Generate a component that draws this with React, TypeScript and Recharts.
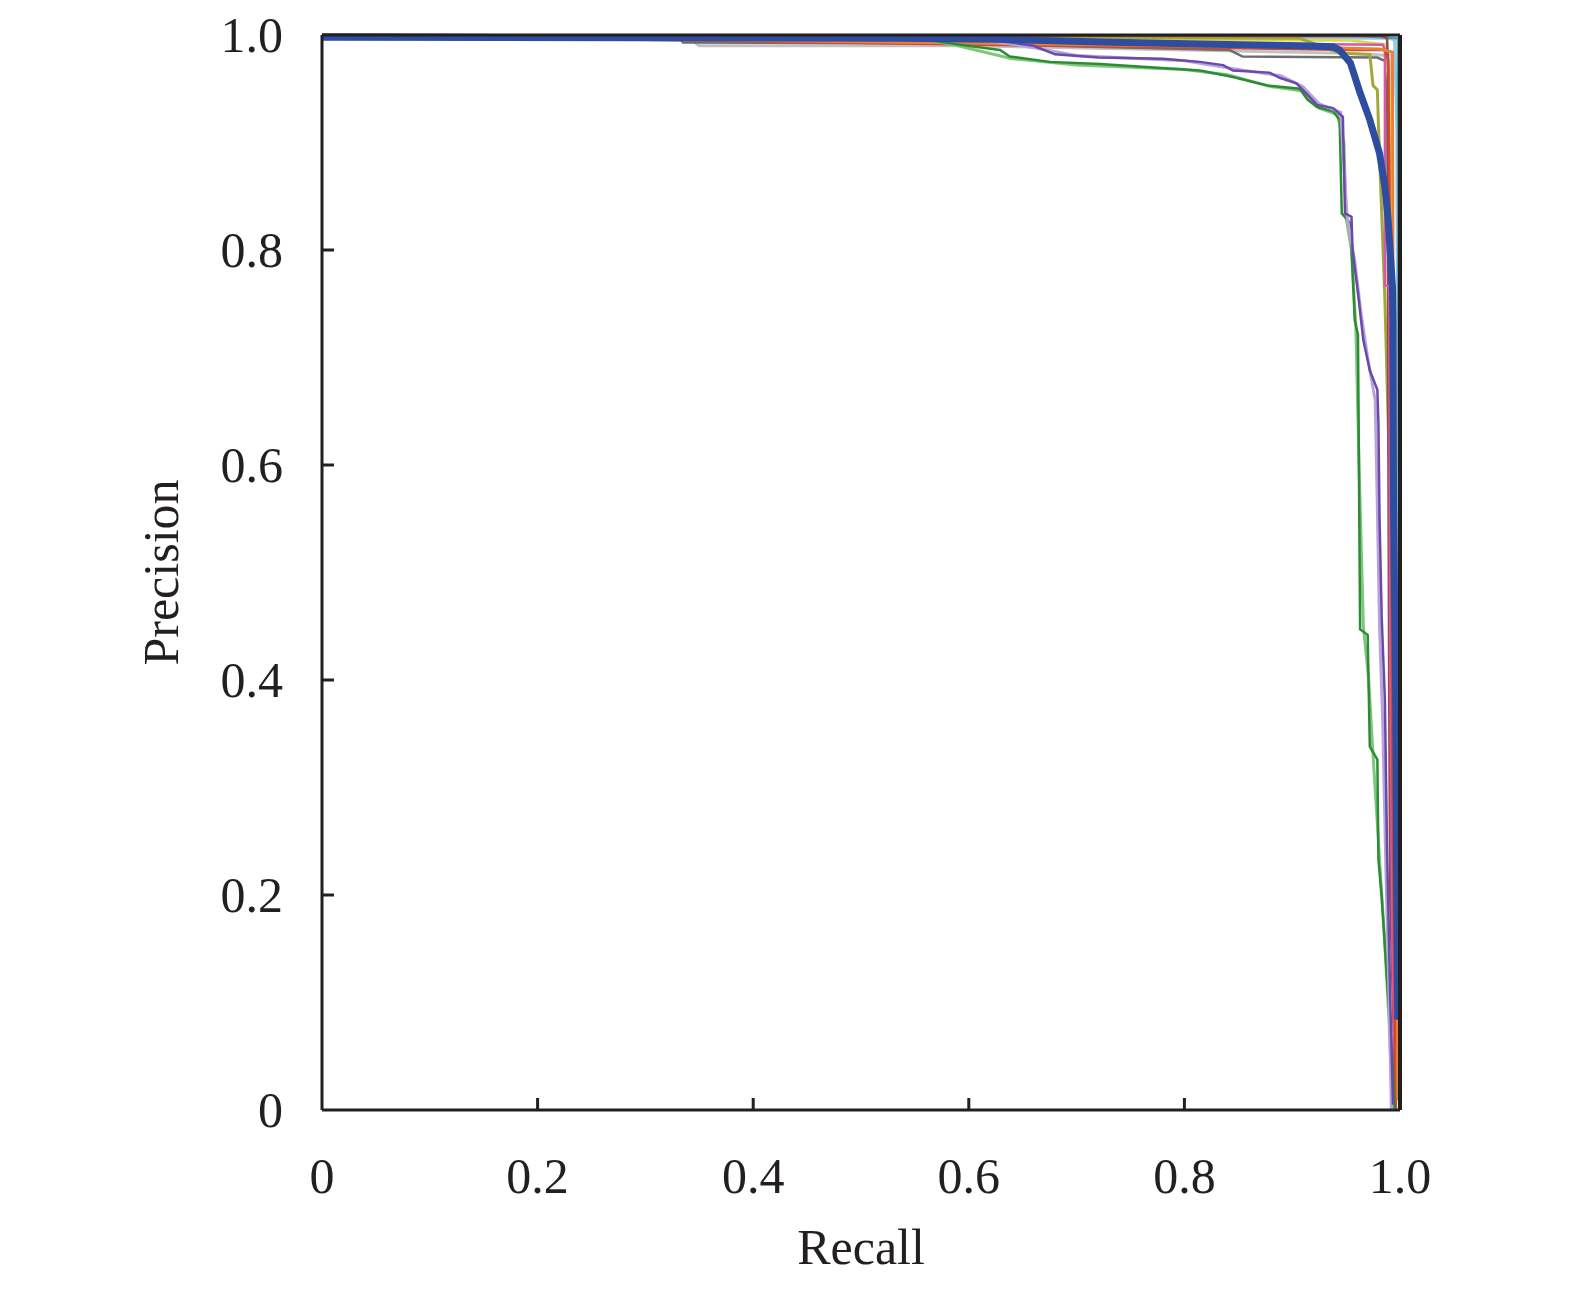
import { LineChart, Line, XAxis, YAxis, ReferenceLine, Label } from 'recharts';

const xTicks = [0, 0.2, 0.4, 0.6, 0.8, 1.0];
const xTickLabels = ['0', '0.2', '0.4', '0.6', '0.8', '1.0'];
const yTicks = [0, 0.2, 0.4, 0.6, 0.8, 1.0];
const yTickLabels = ['0', '0.2', '0.4', '0.6', '0.8', '1.0'];

// [recall, precision] pairs
const grayLight: [number, number][] = [
  [0, 1], [0.34, 0.997], [0.35, 0.99], [0.6, 0.99], [0.85, 0.985], [0.95, 0.983],
  [0.99, 0.981], [0.995, 0.567], [0.998, 0.009],
];
const grayDark: [number, number][] = [
  [0, 1], [0.331, 0.998], [0.335, 0.993], [0.592, 0.992], [0.842, 0.986], [0.854, 0.98],
  [0.979, 0.979], [0.988, 0.975], [0.989, 0.753], [0.993, 0.381], [0.996, 0.009],
];
const lightBlue: [number, number][] = [
  [0, 1], [0.072, 0.997], [0.99, 0.997], [0.995, 0.995], [0.997, 0.916], [0.998, 0.66], [0.999, 0.009],
];
const teal: [number, number][] = [
  [0, 1], [0.96, 0.999], [0.998, 0.997], [0.999, 0.5], [1.0, 0.0],
];
const yellow: [number, number][] = [
  [0, 1], [0.954, 0.995], [0.986, 0.991], [0.991, 0.94], [0.9935, 0.567], [0.995, 0.288], [0.997, 0.009],
];
const olive: [number, number][] = [
  [0, 1], [0.907, 0.997], [0.944, 0.983], [0.972, 0.982], [0.975, 0.953], [0.979, 0.949],
  [0.98, 0.916], [0.986, 0.753], [0.991, 0.567], [0.994, 0.2], [0.996, 0.0],
];
const brown: [number, number][] = [
  [0, 1], [0.983, 0.999], [0.988, 0.997], [0.989, 0.969], [0.989, 0.688], [0.99, 0.381],
  [0.991, 0.195], [0.996, 0.002],
];
const pink: [number, number][] = [
  [0, 1], [0.984, 0.991], [0.986, 0.986], [0.986, 0.767], [0.99, 0.766], [0.991, 0.4],
  [0.993, 0.15], [0.996, 0.0],
];
const red: [number, number][] = [
  [0, 1], [0.958, 0.986], [0.986, 0.986], [0.989, 0.977], [0.99, 0.893], [0.991, 0.767],
  [0.993, 0.3], [0.996, 0.0],
];
const orange: [number, number][] = [
  [0, 1], [0.944, 0.988], [0.981, 0.987], [0.993, 0.984], [0.9935, 0.772], [0.995, 0.763],
  [0.996, 0.381], [0.998, 0.009],
];
const greenLight: [number, number][] = [
  [0, 1], [0.55, 0.998], [0.59, 0.99], [0.64, 0.978], [0.7, 0.972], [0.8, 0.968], [0.84, 0.963],
  [0.88, 0.952], [0.91, 0.948], [0.925, 0.932], [0.942, 0.926], [0.948, 0.9], [0.95, 0.83],
  [0.955, 0.8], [0.959, 0.73], [0.962, 0.6], [0.966, 0.45], [0.971, 0.4], [0.975, 0.33],
  [0.98, 0.25], [0.985, 0.17], [0.99, 0.08], [0.993, 0.0],
];
const greenDark: [number, number][] = [
  [0, 1], [0.536, 0.999], [0.564, 0.995], [0.592, 0.991], [0.629, 0.986], [0.638, 0.98],
  [0.675, 0.975], [0.722, 0.973], [0.768, 0.97], [0.8145, 0.967], [0.845, 0.961], [0.877, 0.953],
  [0.907, 0.95], [0.914, 0.94], [0.923, 0.933], [0.938, 0.929], [0.944, 0.921], [0.946, 0.834],
  [0.954, 0.825], [0.958, 0.735], [0.961, 0.721], [0.963, 0.447], [0.97, 0.442], [0.972, 0.338],
  [0.979, 0.326], [0.98, 0.233], [0.983, 0.198], [0.988, 0.121], [0.993, 0.047], [0.995, 0.002],
];
const purpleLight: [number, number][] = [
  [0, 1], [0.6, 0.997], [0.65, 0.99], [0.7, 0.981], [0.8, 0.976], [0.85, 0.968], [0.89, 0.962],
  [0.91, 0.952], [0.925, 0.936], [0.945, 0.928], [0.951, 0.83], [0.958, 0.79], [0.964, 0.74],
  [0.97, 0.7], [0.977, 0.66], [0.979, 0.56], [0.981, 0.45], [0.984, 0.36], [0.987, 0.22],
  [0.99, 0.1], [0.992, 0.0],
];
const purpleDark: [number, number][] = [
  [0, 1], [0.59, 0.998], [0.64, 0.993], [0.66, 0.99], [0.68, 0.982], [0.72, 0.979], [0.78, 0.978],
  [0.8145, 0.975], [0.836, 0.972], [0.845, 0.967], [0.879, 0.965], [0.889, 0.96], [0.904, 0.955],
  [0.9165, 0.942], [0.923, 0.935], [0.938, 0.932], [0.947, 0.924], [0.949, 0.834], [0.955, 0.831],
  [0.956, 0.8], [0.961, 0.76], [0.966, 0.716], [0.972, 0.688], [0.979, 0.67], [0.98, 0.639],
  [0.981, 0.552], [0.983, 0.459], [0.986, 0.381], [0.988, 0.242], [0.991, 0.102], [0.9935, 0.005],
];
const blue: [number, number][] = [
  [0, 0.998], [0.536, 0.997], [0.629, 0.996], [0.722, 0.9935], [0.8145, 0.9916], [0.907, 0.99],
  [0.938, 0.989], [0.944, 0.986], [0.954, 0.974], [0.963, 0.946], [0.972, 0.921], [0.981, 0.89],
  [0.986, 0.859], [0.989, 0.828], [0.993, 0.766], [0.9935, 0.735], [0.994, 0.567], [0.996, 0.381],
  [0.997, 0.195], [0.998, 0.084],
];

const series = [
  { name: 'grayLight', pts: grayLight, color: '#c2c2c2', width: 3 },
  { name: 'grayDark', pts: grayDark, color: '#6e6e6e', width: 2.5 },
  { name: 'lightBlue', pts: lightBlue, color: '#9cc6e8', width: 3 },
  { name: 'teal', pts: teal, color: '#4aa0a8', width: 2.5 },
  { name: 'yellow', pts: yellow, color: '#e0d850', width: 3 },
  { name: 'olive', pts: olive, color: '#a3a83a', width: 3 },
  { name: 'brown', pts: brown, color: '#8d4b4b', width: 2.5 },
  { name: 'pink', pts: pink, color: '#d45aa8', width: 2.5 },
  { name: 'red', pts: red, color: '#d8452e', width: 2.5 },
  { name: 'orange', pts: orange, color: '#e8803a', width: 3 },
  { name: 'greenLight', pts: greenLight, color: '#7cc87c', width: 3 },
  { name: 'greenDark', pts: greenDark, color: '#2e8b35', width: 2.5 },
  { name: 'purpleLight', pts: purpleLight, color: '#b9a3dc', width: 3 },
  { name: 'purpleDark', pts: purpleDark, color: '#6a4aa8', width: 2.5 },
  { name: 'blue', pts: blue, color: '#2e4da0', width: 7 },
];

const INK = '#231f20';
const FONT = '"Liberation Serif", "Times New Roman", serif';
const TICK_LEN = 12;
const X_MARGIN = 47;
const Y_MARGIN = 39;

function XTick(props: any) {
  const { x, y, payload } = props;
  const i = xTicks.indexOf(payload.value);
  const axisY = y - X_MARGIN;
  return (
    <g>
      {payload.value > 0 && payload.value < 1 && (
        <line x1={x} x2={x} y1={axisY} y2={axisY - TICK_LEN} stroke={INK} strokeWidth={3} />
      )}
      <text x={x} y={y} dy="0.71em" textAnchor="middle" fill={INK} fontSize={50} fontFamily={FONT}>
        {xTickLabels[i]}
      </text>
    </g>
  );
}

function YTick(props: any) {
  const { x, y, payload } = props;
  const i = yTicks.indexOf(payload.value);
  const axisX = x + Y_MARGIN;
  return (
    <g>
      {payload.value > 0 && payload.value < 1 && (
        <line x1={axisX} x2={axisX + TICK_LEN} y1={y} y2={y} stroke={INK} strokeWidth={3} />
      )}
      <text x={x} y={y} dy="0.34em" textAnchor="end" fill={INK} fontSize={50} fontFamily={FONT}>
        {yTickLabels[i]}
      </text>
    </g>
  );
}

function XTitle(props: any) {
  const vb = props.viewBox || { x: 314, y: 1102, width: 1078 };
  return (
    <text x={vb.x + vb.width / 2} y={vb.y + 154} textAnchor="middle" fill={INK} fontSize={50} fontFamily={FONT}>
      Recall
    </text>
  );
}

function YTitle(props: any) {
  const vb = props.viewBox || { x: 114, y: 27, height: 1075 };
  const cx = vb.x + 56;
  const cy = vb.y + vb.height / 2;
  return (
    <text x={cx} y={cy} transform={`rotate(-90 ${cx} ${cy})`} textAnchor="middle" fill={INK} fontSize={50} fontFamily={FONT}>
      Precision
    </text>
  );
}

export default function App() {
  return (
    <div style={{ width: 1567, height: 1285, background: '#fff' }}>
      <LineChart width={1567} height={1285} margin={{ top: 27, right: 175, bottom: 83, left: 114 }}>
        <XAxis
          type="number"
          dataKey="r"
          domain={[0, 1]}
          ticks={xTicks}
          interval={0}
          height={100}
          tickSize={0}
          tickMargin={X_MARGIN}
          tickLine={false}
          axisLine={{ stroke: INK, strokeWidth: 3 }}
          tick={<XTick />}
        >
          <Label content={<XTitle />} />
        </XAxis>
        <YAxis
          type="number"
          domain={[0, 1]}
          ticks={yTicks}
          interval={0}
          width={200}
          tickSize={0}
          tickMargin={Y_MARGIN}
          tickLine={false}
          axisLine={{ stroke: INK, strokeWidth: 3 }}
          tick={<YTick />}
        >
          <Label content={<YTitle />} />
        </YAxis>
        {series.map((s) => (
          <Line
            key={s.name}
            data={s.pts.map(([r, p]) => ({ r, p }))}
            dataKey="p"
            type="linear"
            stroke={s.color}
            strokeWidth={s.width}
            dot={false}
            activeDot={false}
            isAnimationActive={false}
          />
        ))}
        <ReferenceLine y={1} stroke={INK} strokeWidth={3} />
        <ReferenceLine x={1} stroke={INK} strokeWidth={4} />
      </LineChart>
    </div>
  );
}
